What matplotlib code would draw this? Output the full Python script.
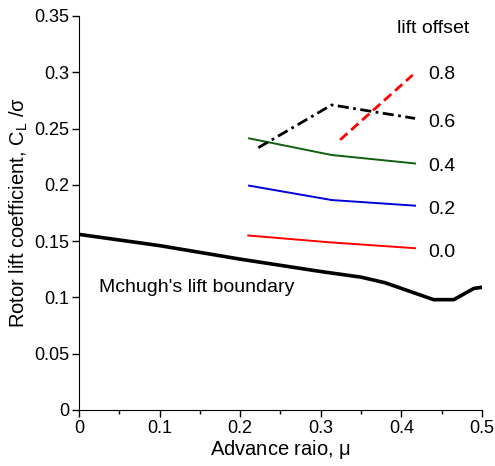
import numpy as np
import matplotlib
matplotlib.use('Agg')
import matplotlib.pyplot as plt
from matplotlib.ticker import MultipleLocator

plt.rcParams['font.family'] = ['Liberation Sans', 'DejaVu Sans']
plt.rcParams['mathtext.fontset'] = 'custom'
plt.rcParams['mathtext.rm'] = 'Liberation Sans'
plt.rcParams['mathtext.it'] = 'Liberation Sans'

# McHugh's lift boundary
mu_boundary = [0.0, 0.07, 0.1, 0.2, 0.3, 0.35, 0.38, 0.44, 0.465, 0.49, 0.5]
cl_boundary = [0.156, 0.149, 0.146, 0.134, 0.123, 0.118, 0.113, 0.098, 0.098, 0.108, 0.109]

# lift offset curves
mu_00 = [0.21, 0.31, 0.417]
cl_00 = [0.155, 0.149, 0.1437]
mu_02 = [0.211, 0.3135, 0.417]
cl_02 = [0.1993, 0.1865, 0.1815]
mu_04 = [0.211, 0.3135, 0.417]
cl_04 = [0.2413, 0.2265, 0.219]
mu_06 = [0.2225, 0.3135, 0.417]
cl_06 = [0.233, 0.271, 0.259]
mu_08 = [0.324, 0.414]
cl_08 = [0.240, 0.2976]

offset_labels = ['0.8', '0.6', '0.4', '0.2', '0.0']
offset_label_y = [0.2976, 0.255, 0.2167, 0.1777, 0.140]

fig = plt.figure(figsize=(4.95, 4.66), dpi=100)
ax = fig.add_axes([0.1596, 0.1202, 0.8141, 0.8455])

ax.plot(mu_boundary, cl_boundary, color='black', lw=2.6, solid_joinstyle='round')
ax.plot(mu_00, cl_00, color='red', lw=1.4)
ax.plot(mu_02, cl_02, color='#0000dd', lw=1.4)
ax.plot(mu_04, cl_04, color='#106010', lw=1.4)
ax.plot(mu_06, cl_06, color='black', lw=2, linestyle=(0, (4, 1.6, 1, 1.6)))
ax.plot(mu_08, cl_08, color='red', lw=2, linestyle=(0, (3.5, 1.8)))

for lab, y in zip(offset_labels, offset_label_y):
    ax.text(0.433, y, lab, fontsize=14, va='center', ha='left')
ax.text(0.44, 0.3392, 'lift offset', fontsize=14, va='center', ha='center')
ax.text(0.025, 0.1084, "Mchugh's lift boundary", fontsize=14, va='center', ha='left')

ax.set_xlim(0, 0.5)
ax.set_ylim(0, 0.35)
ax.xaxis.set_minor_locator(MultipleLocator(0.05))
ax.set_yticks(np.arange(0, 0.351, 0.05))
ax.set_yticklabels(['0', '0.05', '0.1', '0.15', '0.2', '0.25', '0.3', '0.35'])
ax.set_xticks(np.arange(0, 0.501, 0.1))
ax.set_xticklabels(['0', '0.1', '0.2', '0.3', '0.4', '0.5'])
ax.tick_params(which='major', direction='out', length=5, width=1, labelsize=13, pad=2)
ax.tick_params(which='minor', direction='out', length=3, width=1)
ax.spines['top'].set_visible(False)
ax.spines['right'].set_visible(False)

ax.set_xlabel(r'Advance raio, $\mu$', fontsize=14.5, labelpad=1)
ax.set_ylabel(r'Rotor lift coefficient, C$_L$ /$\sigma$', fontsize=14.5, labelpad=3)

fig.savefig('out.png', dpi=100)
